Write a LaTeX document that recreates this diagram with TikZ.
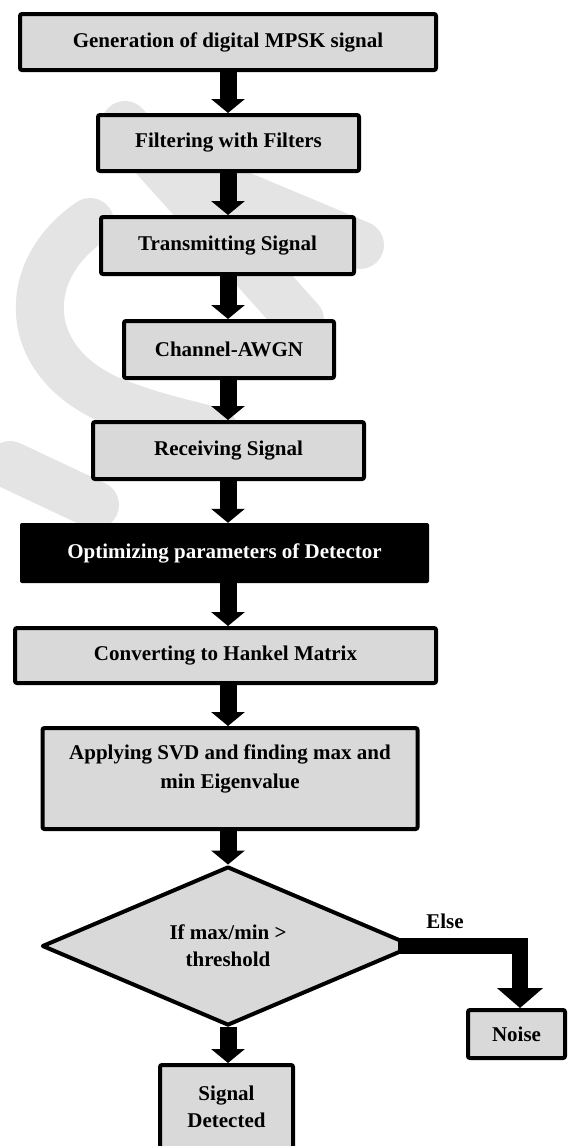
\documentclass[tikz,border=0pt]{standalone}
\usepackage{fontspec}
\setmainfont{Liberation Serif}
\usetikzlibrary{arrows.meta,shapes.geometric}
\definecolor{boxgray}{HTML}{D9D9D9}
\definecolor{markgray}{HTML}{E4E4E4}
\tikzset{
  flowfont/.style={font=\bfseries\fontsize{21}{27}\selectfont},
  flowbox/.style={flowfont, draw=black, line width=4pt, fill=boxgray,
    rounded corners=2pt, inner sep=0pt, align=center},
  darkbox/.style={flowfont, fill=black, text=white, rounded corners=2pt,
    inner sep=0pt, align=center},
  decision/.style={flowfont, diamond, draw=black, line width=4pt, fill=boxgray,
    line join=round, inner sep=0pt, align=center},
  plainlabel/.style={flowfont, inner sep=0pt, align=center},
  flowarrow/.style={line width=17pt, -{Triangle[width=33pt,length=14pt]}},
  elsearrow/.style={line width=16pt, line join=miter, -{Triangle[width=45pt,length=20pt]}},
  markstroke/.style={draw=markgray, line width=48pt, line cap=round},
}
\begin{document}
\begin{tikzpicture}[x=1pt,y=-1pt]
\useasboundingbox (0,0) rectangle (568,1146);

% faint background mark
\draw[markstroke] (125,125) -- (300,320);
\draw[markstroke] (205,180) -- (360,245);
\draw[markstroke] (90,222) .. controls (20,270) and (20,360) .. (110,400)
  .. controls (160,420) and (195,425) .. (215,432);
\draw[markstroke] (10,465) -- (95,505);

% process boxes
\node[flowbox, minimum width=416pt, minimum height=56pt] (gen)   at (228,42)    {Generation of digital MPSK signal};
\node[flowbox, minimum width=261pt, minimum height=56pt] (filt)  at (228.5,143) {Filtering with Filters};
\node[flowbox, minimum width=253pt, minimum height=57pt] (trans) at (227.5,245.5) {Transmitting Signal};
\node[flowbox, minimum width=210pt, minimum height=57pt] (chan)  at (229,349.5) {Channel-AWGN};
\node[flowbox, minimum width=271pt, minimum height=57pt] (recv)  at (228.5,450.5) {Receiving Signal};
\node[darkbox, minimum width=409pt, minimum height=60pt] (opt)   at (224.5,553) {Optimizing parameters of Detector};
\node[flowbox, minimum width=421pt, minimum height=55pt] (hank)  at (225.5,655.5) {Converting to Hankel Matrix};
\node[flowbox, minimum width=375pt, minimum height=101pt] (svd)  at (230,778.5) {};
\node[plainlabel, font=\bfseries\fontsize{21}{29}\selectfont] (svdtext) at (230,768.5)
  {Applying SVD and finding max and\\min Eigenvalue};
\node[decision, minimum width=372pt, minimum height=150pt] (test) at (228,946)
  {If max/min \textgreater\\threshold};
\node[flowbox, minimum width=97pt, minimum height=48pt] (noise) at (516.5,1034) {Noise};
\node[flowbox, minimum width=133pt, minimum height=83pt] (det)   at (226.5,1106.5) {Signal\\Detected};

% connectors along the main column
\coordinate (col) at (228,0);
\draw[flowarrow] (col |- gen.south)  -- (col |- filt.north);
\draw[flowarrow] (col |- filt.south) -- (col |- trans.north);
\draw[flowarrow] (col |- trans.south) -- (col |- chan.north);
\draw[flowarrow] (col |- chan.south) -- (col |- recv.north);
\draw[flowarrow] (col |- recv.south) -- (col |- opt.north);
\draw[flowarrow] (col |- opt.south)  -- (col |- hank.north);
\draw[flowarrow] (col |- hank.south) -- (col |- svd.north);
\draw[flowarrow] (col |- svd.south)  -- (test.north);
\draw[flowarrow] (test.south) -- (col |- det.north);

% else branch
\draw[elsearrow] ([xshift=-18pt]test.east) -| ([xshift=3.5pt]noise.north);
\node[plainlabel] (elselabel) at (445,921) {Else};
\end{tikzpicture}
\end{document}
